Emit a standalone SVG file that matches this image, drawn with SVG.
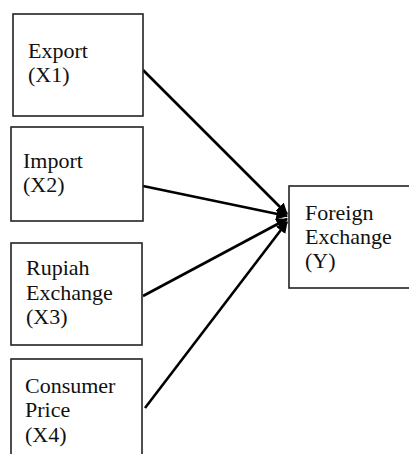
<svg xmlns="http://www.w3.org/2000/svg" width="409" height="454" viewBox="0 0 409 454">
<style>
.box{fill:#fff;stroke:#222;stroke-width:1.6}
.t{font-family:"Liberation Serif","Times New Roman",serif;font-size:22px;fill:#111}
.c{stroke:#000;stroke-width:2.6;fill:none;marker-end:url(#ah)}
</style>
<defs>
<marker id="ah" viewBox="0 0 10 10" refX="9" refY="5" markerWidth="4.5" markerHeight="5" orient="auto" markerUnits="strokeWidth">
<path d="M0,0 L10,5 L0,10 z" fill="#000"/>
</marker>
</defs>
<rect width="409" height="454" fill="#fff"/>
<g id="connectors">
<line class="c" x1="143" y1="70" x2="287" y2="214"/>
<line class="c" x1="143" y1="186" x2="287" y2="216"/>
<line class="c" x1="143" y1="296" x2="287" y2="219"/>
<line class="c" x1="145" y1="408" x2="287" y2="222"/>
</g>
<g id="x1">
<rect class="box" x="13" y="14" width="130" height="102"/>
<text class="t" x="28" y="58">Export</text>
<text class="t" x="28" y="82">(X1)</text>
</g>
<g id="x2">
<rect class="box" x="11" y="127" width="132" height="94"/>
<text class="t" x="23" y="168">Import</text>
<text class="t" x="23" y="192">(X2)</text>
</g>
<g id="x3">
<rect class="box" x="11" y="243" width="131" height="102"/>
<text class="t" x="26" y="275">Rupiah</text>
<text class="t" x="26" y="300">Exchange</text>
<text class="t" x="26" y="324">(X3)</text>
</g>
<g id="x4">
<rect class="box" x="11" y="359" width="131" height="110"/>
<text class="t" x="25" y="393">Consumer</text>
<text class="t" x="25" y="417">Price</text>
<text class="t" x="25" y="442">(X4)</text>
</g>
<g id="y">
<rect class="box" x="289" y="186" width="130" height="102"/>
<text class="t" x="305" y="220">Foreign</text>
<text class="t" x="305" y="244">Exchange</text>
<text class="t" x="305" y="268">(Y)</text>
</g>
</svg>
